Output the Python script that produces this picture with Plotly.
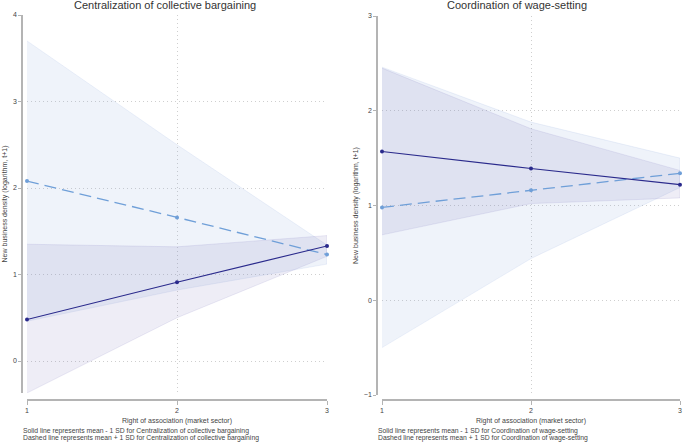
import plotly.graph_objects as go

# ---------------- data ----------------
x_vals = [1, 2, 3]

# Left panel: Centralization of collective bargaining
left_solid = [0.48, 0.91, 1.33]          # mean - 1 SD
left_solid_lo = [-0.37, 0.50, 1.21]
left_solid_hi = [1.35, 1.32, 1.45]
left_dash = [2.08, 1.66, 1.23]           # mean + 1 SD
left_dash_lo = [0.46, 0.82, 1.12]
left_dash_hi = [3.70, 2.50, 1.34]

# Right panel: Coordination of wage-setting
right_solid = [1.57, 1.39, 1.22]
right_solid_lo = [0.69, 1.02, 1.08]
right_solid_hi = [2.45, 1.81, 1.37]
right_dash = [0.98, 1.16, 1.34]
right_dash_lo = [-0.50, 0.44, 1.19]
right_dash_hi = [2.46, 1.88, 1.50]

left_title = "Centralization of collective bargaining"
right_title = "Coordination of wage-setting"
y_title = "New business density (logarithm, t+1)"
x_title = "Right of association (market sector)"
left_notes = ["Solid line represents mean - 1 SD for Centralization of collective bargaining",
              "Dashed line represents mean + 1 SD for Centralization of collective bargaining"]
right_notes = ["Solid line represents mean - 1 SD for Coordination of wage-setting",
               "Dashed line represents mean + 1 SD for Coordination of wage-setting"]

left_yticks = [0, 1, 2, 3, 4]
right_yticks = [-1, 0, 1, 2, 3]

# ---------------- style ----------------
W, H = 685, 443
FONT = "Liberation Sans, Arial, sans-serif"
SOLID_C = "#2a2a8c"
DASH_C = "#6f9fd8"
SOLID_FILL = "rgba(100,95,175,0.11)"
DASH_FILL = "rgba(140,170,220,0.14)"
AXIS_C = "#b4b4b4"
GRID_C = "#cfcfcf"

fig = go.Figure()


def add_panel(xa, ya, solid, slo, shi, dash, dlo, dhi):
    # dashed band
    fig.add_trace(go.Scatter(x=x_vals + x_vals[::-1], y=dhi + dlo[::-1], fill="toself",
                             fillcolor=DASH_FILL, line=dict(width=0.6, color="rgba(140,170,220,0.25)"),
                             mode="lines", xaxis=xa, yaxis=ya, showlegend=False, hoverinfo="skip"))
    # solid band
    fig.add_trace(go.Scatter(x=x_vals + x_vals[::-1], y=shi + slo[::-1], fill="toself",
                             fillcolor=SOLID_FILL, line=dict(width=0.6, color="rgba(100,95,175,0.2)"),
                             mode="lines", xaxis=xa, yaxis=ya, showlegend=False, hoverinfo="skip"))
    fig.add_trace(go.Scatter(x=x_vals, y=dash, mode="lines+markers",
                             line=dict(color=DASH_C, width=1.3, dash="12px,6px"),
                             marker=dict(size=4, color=DASH_C), cliponaxis=False,
                             xaxis=xa, yaxis=ya, showlegend=False))
    fig.add_trace(go.Scatter(x=x_vals, y=solid, mode="lines+markers",
                             line=dict(color=SOLID_C, width=1.1),
                             marker=dict(size=4, color=SOLID_C), cliponaxis=False,
                             xaxis=xa, yaxis=ya, showlegend=False))


add_panel("x", "y", left_solid, left_solid_lo, left_solid_hi, left_dash, left_dash_lo, left_dash_hi)
add_panel("x2", "y2", right_solid, right_solid_lo, right_solid_hi, right_dash, right_dash_lo, right_dash_hi)


def px_x(p):
    return p / W


def px_y(p):
    return 1 - p / H


tickfont = dict(family=FONT, size=7, color="#444")
titlefont = dict(family=FONT, size=7, color="#444")

common_x = dict(range=[1, 3], tickvals=x_vals, ticks="outside", ticklen=4, tickcolor=AXIS_C,
                showline=True, linecolor=AXIS_C, linewidth=1.5, showgrid=True, gridcolor=GRID_C,
                griddash="1px,3px", gridwidth=1, zeroline=False, tickfont=tickfont, anchor="free",
                position=px_y(400), title=dict(text=x_title, font=titlefont, standoff=4),
                automargin=False)
common_y = dict(ticks="outside", ticklen=3, tickcolor=AXIS_C, showline=True, linecolor=AXIS_C,
                linewidth=1.5, showgrid=True, gridcolor=GRID_C, griddash="1px,3px", gridwidth=1,
                zeroline=False, tickfont=tickfont, anchor="free", automargin=False,
                title=dict(text=y_title, font=titlefont, standoff=3))

fig.update_layout(
    width=W, height=H, margin=dict(l=0, r=0, t=0, b=0, autoexpand=False),
    paper_bgcolor="white", plot_bgcolor="white", font=dict(family=FONT),
    xaxis=dict(common_x, domain=[px_x(27), px_x(327)]),
    yaxis=dict(common_y, domain=[px_y(393), px_y(15)], range=[-0.37, 4], tickvals=left_yticks,
               position=px_x(22)),
    xaxis2=dict(common_x, domain=[px_x(382), px_x(680)]),
    yaxis2=dict(common_y, domain=[px_y(395), px_y(16)], range=[-1, 3], tickvals=right_yticks,
                position=px_x(377)),
)

annotations = [
    dict(text=left_title, x=px_x(165), y=px_y(5), xref="paper", yref="paper", showarrow=False,
         xanchor="center", yanchor="middle", font=dict(family=FONT, size=11, color="#333")),
    dict(text=right_title, x=px_x(517), y=px_y(5), xref="paper", yref="paper", showarrow=False,
         xanchor="center", yanchor="middle", font=dict(family=FONT, size=11, color="#333")),
]
note_font = dict(family=FONT, size=6.8, color="#444")
for notes, x0 in ((left_notes, 22), (right_notes, 377)):
    for i, line in enumerate(notes):
        annotations.append(dict(text=line, x=px_x(x0), y=px_y(431 + 7 * i), xref="paper", yref="paper",
                                showarrow=False, xanchor="left", yanchor="middle", align="left",
                                font=note_font, borderpad=0))
fig.update_layout(annotations=annotations)

fig.write_html("out.html", config={"displayModeBar": False},
               post_script="document.body.style.margin='0px';document.body.style.overflow='hidden';")
